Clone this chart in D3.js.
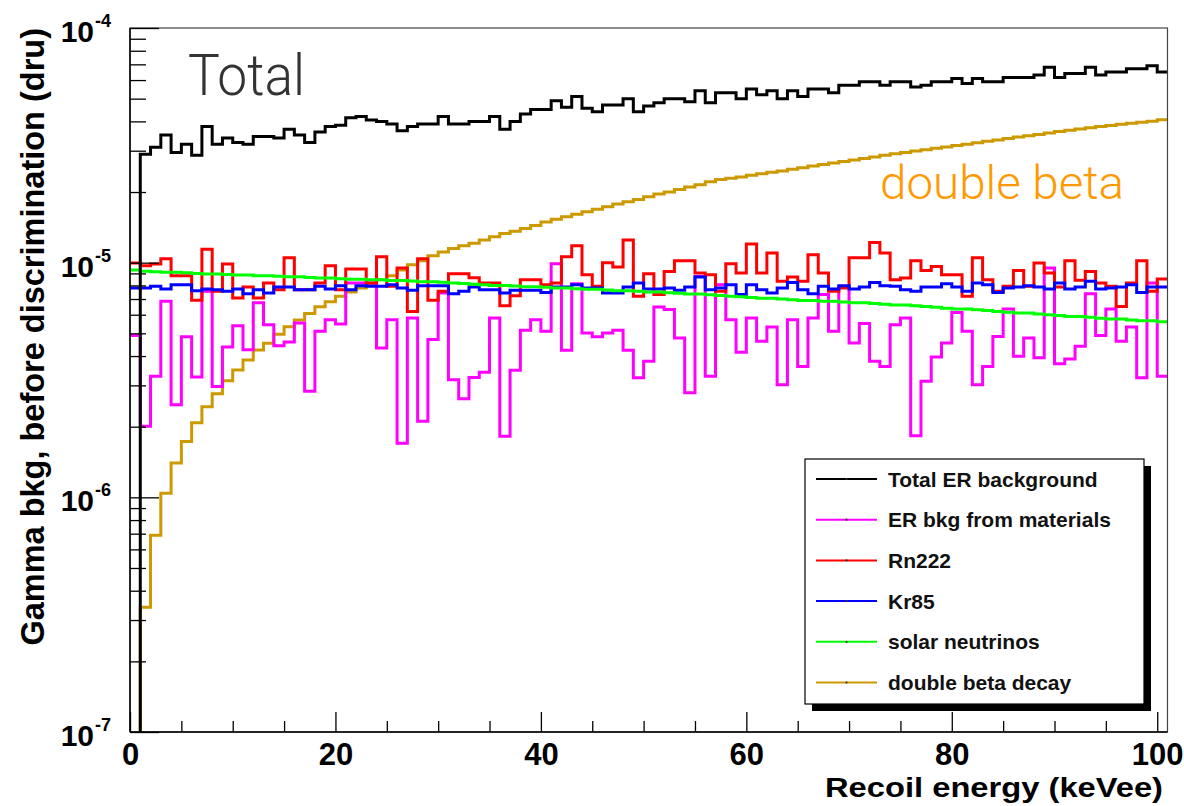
<!DOCTYPE html>
<html lang="en">

<head>
    <meta charset="UTF-8">
    <title>Gamma background before discrimination</title>
    <script src="https://d3js.org/d3.v7.min.js"></script>
    <style>
        body,
        html {
            margin: 0;
            padding: 0;
            overflow: hidden;
            background: #fff;
        }

        svg {
            display: block;
        }
    </style>
</head>

<body>
    <script>
        // bins are 1 keVee wide, bin k covers [k, k+1); values in units of 1e-6 dru
        const binStart = 0;
        const binEnd = 101;
        const unit = 1e-6;

        const totalER = [0, 29, 31, 35, 29.5, 32, 28.7, 38, 32, 34, 32.5, 32, 34.5, 34.5, 34, 37, 35, 32.5, 36, 38,
            38.5, 41.5, 42, 40.5, 40, 39, 36.5, 38, 39, 39, 42, 39, 39, 40, 40, 42, 37, 40, 43, 45,
            45, 49, 46, 51, 45.5, 44, 47, 47, 50, 44, 46.5, 48, 50, 50, 48.5, 54, 48, 53, 53, 50,
            55, 52, 54, 50, 54, 51, 55, 55, 53, 57, 57, 59, 59, 57, 59, 59, 56, 57, 59, 59,
            61, 58, 61, 59, 59, 61.5, 61.5, 61.5, 63, 68, 61.5, 64, 64, 68, 63, 65, 65, 67, 67, 69, 65];

        const materials = [4.89, 2.01, 3.28, 6.84, 2.48, 4.83, 3.26, 7.55, 2.97, 4.37,
            5.39, 4.26, 6.74, 5.44, 4.43, 4.59, 5.53, 2.83, 5.10, 5.71,
            5.48, 8.19, 8.19, 8.19, 4.33, 5.71, 1.70, 5.81, 2.11, 4.70,
            7.43, 3.17, 2.63, 3.24, 3.41, 5.81, 1.82, 3.48, 5.15, 5.71,
            5.10, 9.9, 4.23, 8.14, 5.02, 4.83, 5.02, 5.15, 4.23, 3.23,
            3.80, 6.47, 6.31, 4.78, 2.79, 8.74, 3.28, 8.06, 5.71, 4.15,
            5.81, 4.62, 5.32, 3.02, 5.71, 3.61, 5.81, 7.31, 5.10, 7.88,
            4.55, 5.50, 3.80, 3.61, 5.44, 5.81, 1.83, 3.12, 3.96, 4.55,
            6.14, 5.10, 3.02, 3.61, 4.85, 6.35, 3.99, 4.78, 3.93, 9.49,
            3.71, 3.89, 4.40, 7.38, 4.89, 6.35, 4.62, 5.32, 3.23, 8.19, 3.28];

        const rn222 = [9.97, 9.71, 9.87, 10.4, 8.80, 8.80, 6.91, 11.4, 7.55, 9.87,
            7.07, 7.88, 7.07, 8.19, 7.67, 10.5, 7.67, 7.67, 8.19, 9.71,
            7.67, 9.40, 9.40, 8.19, 10.6, 7.93, 9.49, 6.20, 10.4, 6.91,
            7.55, 8.98, 8.98, 8.63, 8.19, 8.19, 6.56, 7.23, 8.46, 8.46,
            8.06, 8.19, 10.6, 11.8, 8.89, 7.93, 10.0, 9.59, 12.5, 7.19,
            8.98, 7.31, 9.18, 10.2, 10.2, 9.04, 8.89, 7.55, 9.9, 9.04,
            12.0, 9.04, 11.0, 8.33, 8.69, 8.33, 10.8, 9.04, 7.55, 7.80,
            10.5, 10.5, 12.2, 11.0, 8.46, 8.61, 10.2, 9.27, 9.64, 8.89,
            8.89, 7.19, 10.5, 8.46, 7.55, 7.93, 9.27, 7.93, 9.97, 9.04,
            7.88, 10.2, 8.41, 9.18, 8.19, 7.93, 6.51, 8.19, 10.2, 7.55, 8.52];

        const kr85 = [7.80, 7.80, 7.93, 7.73, 8.06, 8.06, 7.60, 7.73, 7.67, 7.55,
            7.73, 7.38, 7.67, 7.43, 7.88, 7.88, 7.67, 7.67, 7.93, 7.73,
            7.98, 7.67, 7.98, 7.93, 7.93, 8.06, 7.80, 7.62, 7.98, 7.98,
            7.98, 7.38, 7.55, 7.88, 7.67, 7.67, 7.43, 7.62, 7.62, 7.62,
            7.47, 7.88, 7.88, 8.06, 7.80, 7.80, 7.43, 7.43, 7.88, 8.19,
            7.73, 7.73, 7.80, 7.62, 7.88, 8.69, 7.67, 7.80, 8.06, 7.31,
            8.06, 7.67, 7.43, 7.80, 8.24, 7.67, 7.38, 7.93, 7.73, 7.98,
            7.73, 7.88, 8.24, 7.98, 7.93, 7.67, 7.55, 7.88, 7.88, 8.14,
            7.88, 7.55, 8.19, 8.06, 7.47, 7.80, 7.88, 7.98, 7.88, 7.73,
            8.19, 7.73, 7.88, 8.33, 7.73, 7.80, 7.88, 8.06, 7.47, 7.88, 7.88];

        const solarNu = [9.3, 9.2, 9.15, 9.1, 9.1, 9.05, 9.0, 8.95, 8.95, 8.9,
            8.85, 8.85, 8.8, 8.8, 8.75, 8.7, 8.7, 8.65, 8.6, 8.6,
            8.55, 8.5, 8.5, 8.45, 8.45, 8.4, 8.4, 8.35, 8.3, 8.3,
            8.25, 8.2, 8.15, 8.1, 8.05, 8.0, 8.0, 7.95, 7.9, 7.9,
            7.85, 7.8, 7.8, 7.75, 7.7, 7.7, 7.65, 7.6, 7.6, 7.55,
            7.5, 7.5, 7.45, 7.4, 7.35, 7.35, 7.3, 7.25, 7.2, 7.15,
            7.1, 7.05, 7.05, 7.0, 6.95, 6.9, 6.9, 6.85, 6.85, 6.8,
            6.75, 6.75, 6.7, 6.65, 6.6, 6.6, 6.55, 6.5, 6.45, 6.4,
            6.35, 6.35, 6.3, 6.25, 6.2, 6.15, 6.1, 6.1, 6.05, 6.0,
            5.95, 5.9, 5.9, 5.85, 5.8, 5.75, 5.75, 5.7, 5.65, 5.65, 5.6];

        const doubleBeta = [0, 0.34, 0.69, 1.04, 1.40, 1.73, 2.08, 2.43, 2.76, 3.14,
            3.49, 3.85, 4.24, 4.53, 4.96, 5.33, 5.70, 6.08, 6.49, 6.82,
            7.2, 7.5, 7.8, 8.1, 8.45, 8.8, 9.3, 9.8, 10.2, 10.7,
            11.1, 11.5, 11.8, 12.1, 12.5, 12.9, 13.3, 13.6, 14.0, 14.4,
            14.9, 15.3, 15.7, 16.1, 16.5, 16.9, 17.3, 17.8, 18.2, 18.6,
            19.1, 19.6, 20.0, 20.5, 21.0, 21.5, 22.1, 22.6, 22.9, 23.2,
            23.6, 23.9, 24.3, 24.6, 25.0, 25.4, 25.8, 26.2, 26.6, 27.0,
            27.4, 27.8, 28.2, 28.7, 29.1, 29.5, 29.9, 30.3, 30.7, 31.1,
            31.6, 32.0, 32.4, 32.9, 33.3, 33.8, 34.3, 34.7, 35.2, 35.7,
            36.2, 36.7, 37.1, 37.6, 38.0, 38.4, 38.9, 39.3, 39.7, 40.1, 40.6];

        const legendLabels = ["Total ER background", "ER bkg from materials", "Rn222", "Kr85",
            "solar neutrinos", "double beta decay"];
        const seriesColors = ["#000000", "#ff00ff", "#ff0000", "#0000ff", "#00ff00", "#cc9900"];
        const seriesData = [totalER, materials, rn222, kr85, solarNu, doubleBeta];
        // drawing order (back to front), total on top
        const drawOrder = [5, 1, 2, 3, 4, 0];

        const xMajor = [0, 20, 40, 60, 80, 100];
        const xMinor = [5, 10, 15, 25, 30, 35, 45, 50, 55, 65, 70, 75, 85, 90, 95];
        const yDecades = [-7, -6, -5, -4];

        const width = 1184;
        const height = 806;
        const plot = { left: 130, top: 28, right: 1167.5, bottom: 732 };

        const svg = d3.select("body")
            .append("svg")
            .attr("width", width)
            .attr("height", height);

        const x = d3.scaleLinear().domain([binStart, binEnd]).range([plot.left, plot.right]);
        const y = d3.scaleLog().domain([1e-7, 1e-4]).range([plot.bottom, plot.top]);

        svg.append("clipPath").attr("id", "clip")
            .append("rect")
            .attr("x", plot.left).attr("y", plot.top)
            .attr("width", plot.right - plot.left).attr("height", plot.bottom - plot.top);

        // step histogram path, empty bins drop below the axis
        const hist = d3.line()
            .x(d => x(d[0]))
            .y(d => d[1] > 0 ? y(d[1] * unit) : plot.bottom + 10)
            .curve(d3.curveStepAfter);

        const histGroup = svg.append("g").attr("clip-path", "url(#clip)");
        drawOrder.forEach(s => {
            const vals = seriesData[s];
            const pts = vals.map((v, i) => [binStart + i, v]);
            pts.push([binEnd, vals[vals.length - 1]]);
            histGroup.append("path")
                .attr("d", hist(pts))
                .attr("fill", "none")
                .attr("stroke", seriesColors[s])
                .attr("stroke-width", 3)
                .attr("stroke-linejoin", "miter");
        });

        // frame
        svg.append("rect")
            .attr("x", plot.left).attr("y", plot.top)
            .attr("width", plot.right - plot.left).attr("height", plot.bottom - plot.top)
            .attr("fill", "none").attr("stroke", "#444").attr("stroke-width", 1.2);

        // x axis, ticks pointing up into the plot
        const xAxisMajor = d3.axisBottom(x).tickValues(xMajor).tickSizeInner(-20).tickSizeOuter(0)
            .tickFormat(d3.format("d"));
        const gx = svg.append("g").attr("transform", `translate(0,${plot.bottom})`).call(xAxisMajor);
        gx.select(".domain").attr("stroke", "#000").attr("stroke-width", 1.5)
            .attr("d", `M${plot.left},0H${plot.right}`);
        gx.selectAll(".tick line").attr("stroke", "#000").attr("stroke-width", 1.3);
        gx.selectAll(".tick text")
            .attr("y", 33).attr("dy", null)
            .attr("font-family", "'Liberation Sans', Arial, sans-serif")
            .attr("font-weight", "bold").attr("font-size", 31).attr("fill", "#000");

        const xAxisMinor = d3.axisBottom(x).tickValues(xMinor).tickSizeInner(-11).tickSizeOuter(0)
            .tickFormat("");
        const gxm = svg.append("g").attr("transform", `translate(0,${plot.bottom})`).call(xAxisMinor);
        gxm.select(".domain").remove();
        gxm.selectAll(".tick line").attr("stroke", "#000").attr("stroke-width", 1.3);

        // y axis, ticks pointing right into the plot
        const yMajorVals = yDecades.map(e => Math.pow(10, e));
        const yMinorVals = y.ticks().filter(v => !yMajorVals.some(m => Math.abs(v / m - 1) < 1e-6));

        const gy = svg.append("g").attr("transform", `translate(${plot.left},0)`)
            .call(d3.axisLeft(y).tickValues(yMajorVals).tickSizeInner(-29).tickSizeOuter(0).tickFormat(""));
        gy.select(".domain").attr("stroke", "#000").attr("stroke-width", 1.5)
            .attr("d", `M0,${plot.top}V${plot.bottom}`);
        gy.selectAll(".tick line").attr("stroke", "#000").attr("stroke-width", 1.3);

        const gym = svg.append("g").attr("transform", `translate(${plot.left},0)`)
            .call(d3.axisLeft(y).tickValues(yMinorVals).tickSizeInner(-16).tickSizeOuter(0).tickFormat(""));
        gym.select(".domain").remove();
        gym.selectAll(".tick line").attr("stroke", "#000").attr("stroke-width", 1.3);

        // y tick labels 10^n
        const yLab = svg.append("g")
            .attr("font-family", "'Liberation Sans', Arial, sans-serif")
            .attr("font-weight", "bold").attr("fill", "#000");
        yDecades.forEach(e => {
            const py = y(Math.pow(10, e));
            yLab.append("text")
                .attr("x", 94).attr("y", py + 14)
                .attr("text-anchor", "end").attr("font-size", 30)
                .text("10");
            yLab.append("text")
                .attr("x", 95).attr("y", py - 1)
                .attr("font-size", 18)
                .text(String(e));
        });

        // axis titles
        svg.append("text")
            .attr("x", 1163).attr("y", 797)
            .attr("text-anchor", "end")
            .attr("font-family", "'Liberation Sans', Arial, sans-serif")
            .attr("font-weight", "bold").attr("font-size", 27)
            .attr("textLength", 338).attr("lengthAdjust", "spacingAndGlyphs")
            .text("Recoil energy (keVee)");

        svg.append("text")
            .attr("transform", "translate(43.5,28) rotate(-90)")
            .attr("text-anchor", "end")
            .attr("font-family", "'Liberation Sans', Arial, sans-serif")
            .attr("font-weight", "bold").attr("font-size", 32.5)
            .text("Gamma bkg, before discrimination (dru)");

        // legend
        const leg = { x: 805, y: 459, w: 339, h: 245, shadow: 7 };
        svg.append("rect")
            .attr("x", leg.x + leg.shadow).attr("y", leg.y + leg.shadow)
            .attr("width", leg.w).attr("height", leg.h).attr("fill", "#000");
        svg.append("rect")
            .attr("x", leg.x).attr("y", leg.y)
            .attr("width", leg.w).attr("height", leg.h)
            .attr("fill", "#fff").attr("stroke", "#000").attr("stroke-width", 1.2);

        const rowGap = 40.7;
        legendLabels.forEach((label, i) => {
            const cy = 479 + i * rowGap;
            svg.append("line")
                .attr("x1", 816).attr("x2", 877).attr("y1", cy).attr("y2", cy)
                .attr("stroke", seriesColors[i]).attr("stroke-width", 2);
            svg.append("circle")
                .attr("cx", 846.5).attr("cy", cy).attr("r", 1.1).attr("fill", "#333");
            svg.append("text")
                .attr("x", 888).attr("y", cy + 7.5)
                .attr("font-family", "'Liberation Sans', Arial, sans-serif")
                .attr("font-weight", "bold").attr("font-size", 21).attr("fill", "#111")
                .text(label);
        });

        // annotations
        svg.append("text")
            .attr("x", 188).attr("y", 95)
            .attr("font-family", "Roboto, 'Open Sans', sans-serif")
            .attr("font-weight", 300).attr("font-size", 57).attr("fill", "#333")
            .attr("textLength", 117).attr("lengthAdjust", "spacingAndGlyphs")
            .text("Total");

        svg.append("text")
            .attr("x", 880).attr("y", 199)
            .attr("font-family", "Roboto, 'Open Sans', sans-serif")
            .attr("font-weight", 300).attr("font-size", 46).attr("fill", "#ff9900")
            .attr("textLength", 244).attr("lengthAdjust", "spacingAndGlyphs")
            .text("double beta");
    </script>
</body>

</html>
